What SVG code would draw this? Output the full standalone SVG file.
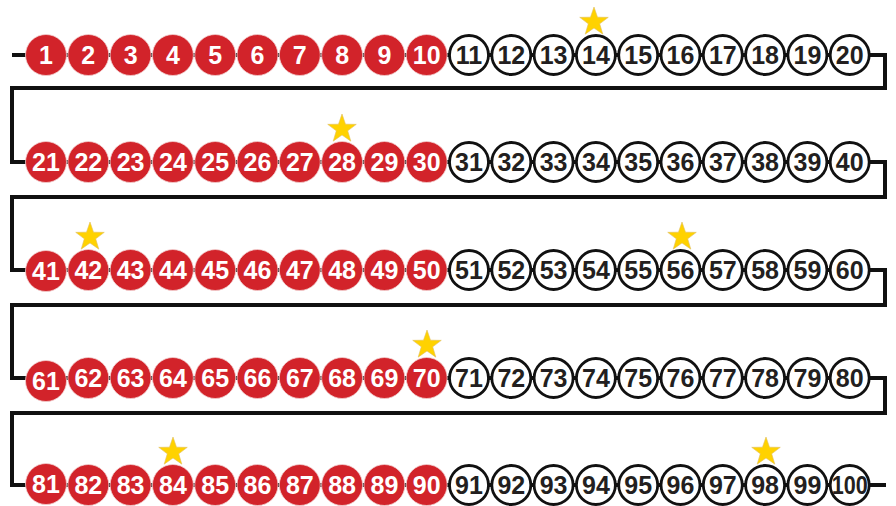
<svg xmlns="http://www.w3.org/2000/svg" width="896" height="506" viewBox="0 0 896 506">
<style>
.r{fill:#D2232A;stroke:#f3d0d0;stroke-width:0.8}
.w{fill:#fff;stroke:#111;stroke-width:2.8}
text{font-family:"Liberation Sans","DejaVu Sans",sans-serif;font-weight:bold;font-size:25px;text-anchor:middle}
.r+text{fill:#fff}
.w+text{fill:#231F20}
.conn{fill:none;stroke:#111;stroke-width:4;stroke-linejoin:miter}
.star{fill:#FFD200;stroke:#e0c060;stroke-width:0.6}
</style>
<defs>
<polygon id="st" points="0,-15 3.53,-4.85 14.27,-4.64 5.71,1.85 8.82,12.14 0,6 -8.82,12.14 -5.71,1.85 -14.27,-4.64 -3.53,-4.85"/>
</defs>
<rect width="896" height="506" fill="#fff"/>
<g id="connectors">
<path class="conn" d="M12 55 H885 V88 H12 V162 H885 V197 H12 V270 H885 V305 H12 V378 H885 V413 H12 V485 H886"/>
</g>
<g id="row1">
<g id="n1"><circle class="r" cx="46" cy="55" r="20.5"/><text x="46" y="64">1</text></g>
<g id="n2"><circle class="r" cx="88.3" cy="55" r="20.5"/><text x="88.3" y="64">2</text></g>
<g id="n3"><circle class="r" cx="130.6" cy="55" r="20.5"/><text x="130.6" y="64">3</text></g>
<g id="n4"><circle class="r" cx="172.9" cy="55" r="20.5"/><text x="172.9" y="64">4</text></g>
<g id="n5"><circle class="r" cx="215.2" cy="55" r="20.5"/><text x="215.2" y="64">5</text></g>
<g id="n6"><circle class="r" cx="257.5" cy="55" r="20.5"/><text x="257.5" y="64">6</text></g>
<g id="n7"><circle class="r" cx="299.8" cy="55" r="20.5"/><text x="299.8" y="64">7</text></g>
<g id="n8"><circle class="r" cx="342.1" cy="55" r="20.5"/><text x="342.1" y="64">8</text></g>
<g id="n9"><circle class="r" cx="384.4" cy="55" r="20.5"/><text x="384.4" y="64">9</text></g>
<g id="n10"><circle class="r" cx="426.7" cy="55" r="20.5"/><text x="426.7" y="64">10</text></g>
<g id="n11"><circle class="w" cx="469" cy="55" r="19.5"/><text x="469" y="64">11</text></g>
<g id="n12"><circle class="w" cx="511.3" cy="55" r="19.5"/><text x="511.3" y="64">12</text></g>
<g id="n13"><circle class="w" cx="553.6" cy="55" r="19.5"/><text x="553.6" y="64">13</text></g>
<g id="n14"><circle class="w" cx="595.9" cy="55" r="19.5"/><text x="595.9" y="64">14</text></g>
<g id="n15"><circle class="w" cx="638.2" cy="55" r="19.5"/><text x="638.2" y="64">15</text></g>
<g id="n16"><circle class="w" cx="680.5" cy="55" r="19.5"/><text x="680.5" y="64">16</text></g>
<g id="n17"><circle class="w" cx="722.8" cy="55" r="19.5"/><text x="722.8" y="64">17</text></g>
<g id="n18"><circle class="w" cx="765.1" cy="55" r="19.5"/><text x="765.1" y="64">18</text></g>
<g id="n19"><circle class="w" cx="807.4" cy="55" r="19.5"/><text x="807.4" y="64">19</text></g>
<g id="n20"><circle class="w" cx="849.7" cy="55" r="19.5"/><text x="849.7" y="64">20</text></g>
</g>
<g id="row2">
<g id="n21"><circle class="r" cx="46" cy="162" r="20.5"/><text x="46" y="171">21</text></g>
<g id="n22"><circle class="r" cx="88.3" cy="162" r="20.5"/><text x="88.3" y="171">22</text></g>
<g id="n23"><circle class="r" cx="130.6" cy="162" r="20.5"/><text x="130.6" y="171">23</text></g>
<g id="n24"><circle class="r" cx="172.9" cy="162" r="20.5"/><text x="172.9" y="171">24</text></g>
<g id="n25"><circle class="r" cx="215.2" cy="162" r="20.5"/><text x="215.2" y="171">25</text></g>
<g id="n26"><circle class="r" cx="257.5" cy="162" r="20.5"/><text x="257.5" y="171">26</text></g>
<g id="n27"><circle class="r" cx="299.8" cy="162" r="20.5"/><text x="299.8" y="171">27</text></g>
<g id="n28"><circle class="r" cx="342.1" cy="162" r="20.5"/><text x="342.1" y="171">28</text></g>
<g id="n29"><circle class="r" cx="384.4" cy="162" r="20.5"/><text x="384.4" y="171">29</text></g>
<g id="n30"><circle class="r" cx="426.7" cy="162" r="20.5"/><text x="426.7" y="171">30</text></g>
<g id="n31"><circle class="w" cx="469" cy="162" r="19.5"/><text x="469" y="171">31</text></g>
<g id="n32"><circle class="w" cx="511.3" cy="162" r="19.5"/><text x="511.3" y="171">32</text></g>
<g id="n33"><circle class="w" cx="553.6" cy="162" r="19.5"/><text x="553.6" y="171">33</text></g>
<g id="n34"><circle class="w" cx="595.9" cy="162" r="19.5"/><text x="595.9" y="171">34</text></g>
<g id="n35"><circle class="w" cx="638.2" cy="162" r="19.5"/><text x="638.2" y="171">35</text></g>
<g id="n36"><circle class="w" cx="680.5" cy="162" r="19.5"/><text x="680.5" y="171">36</text></g>
<g id="n37"><circle class="w" cx="722.8" cy="162" r="19.5"/><text x="722.8" y="171">37</text></g>
<g id="n38"><circle class="w" cx="765.1" cy="162" r="19.5"/><text x="765.1" y="171">38</text></g>
<g id="n39"><circle class="w" cx="807.4" cy="162" r="19.5"/><text x="807.4" y="171">39</text></g>
<g id="n40"><circle class="w" cx="849.7" cy="162" r="19.5"/><text x="849.7" y="171">40</text></g>
</g>
<g id="row3">
<g id="n41"><circle class="r" cx="46" cy="271" r="20.5"/><text x="46" y="280">41</text></g>
<g id="n42"><circle class="r" cx="88.3" cy="270" r="20.5"/><text x="88.3" y="279">42</text></g>
<g id="n43"><circle class="r" cx="130.6" cy="270" r="20.5"/><text x="130.6" y="279">43</text></g>
<g id="n44"><circle class="r" cx="172.9" cy="270" r="20.5"/><text x="172.9" y="279">44</text></g>
<g id="n45"><circle class="r" cx="215.2" cy="270" r="20.5"/><text x="215.2" y="279">45</text></g>
<g id="n46"><circle class="r" cx="257.5" cy="270" r="20.5"/><text x="257.5" y="279">46</text></g>
<g id="n47"><circle class="r" cx="299.8" cy="270" r="20.5"/><text x="299.8" y="279">47</text></g>
<g id="n48"><circle class="r" cx="342.1" cy="270" r="20.5"/><text x="342.1" y="279">48</text></g>
<g id="n49"><circle class="r" cx="384.4" cy="270" r="20.5"/><text x="384.4" y="279">49</text></g>
<g id="n50"><circle class="r" cx="426.7" cy="270" r="20.5"/><text x="426.7" y="279">50</text></g>
<g id="n51"><circle class="w" cx="469" cy="270" r="19.5"/><text x="469" y="279">51</text></g>
<g id="n52"><circle class="w" cx="511.3" cy="270" r="19.5"/><text x="511.3" y="279">52</text></g>
<g id="n53"><circle class="w" cx="553.6" cy="270" r="19.5"/><text x="553.6" y="279">53</text></g>
<g id="n54"><circle class="w" cx="595.9" cy="270" r="19.5"/><text x="595.9" y="279">54</text></g>
<g id="n55"><circle class="w" cx="638.2" cy="270" r="19.5"/><text x="638.2" y="279">55</text></g>
<g id="n56"><circle class="w" cx="680.5" cy="270" r="19.5"/><text x="680.5" y="279">56</text></g>
<g id="n57"><circle class="w" cx="722.8" cy="270" r="19.5"/><text x="722.8" y="279">57</text></g>
<g id="n58"><circle class="w" cx="765.1" cy="270" r="19.5"/><text x="765.1" y="279">58</text></g>
<g id="n59"><circle class="w" cx="807.4" cy="270" r="19.5"/><text x="807.4" y="279">59</text></g>
<g id="n60"><circle class="w" cx="849.7" cy="270" r="19.5"/><text x="849.7" y="279">60</text></g>
</g>
<g id="row4">
<g id="n61"><circle class="r" cx="46" cy="381" r="20.5"/><text x="46" y="390">61</text></g>
<g id="n62"><circle class="r" cx="88.3" cy="378" r="20.5"/><text x="88.3" y="387">62</text></g>
<g id="n63"><circle class="r" cx="130.6" cy="378" r="20.5"/><text x="130.6" y="387">63</text></g>
<g id="n64"><circle class="r" cx="172.9" cy="378" r="20.5"/><text x="172.9" y="387">64</text></g>
<g id="n65"><circle class="r" cx="215.2" cy="378" r="20.5"/><text x="215.2" y="387">65</text></g>
<g id="n66"><circle class="r" cx="257.5" cy="378" r="20.5"/><text x="257.5" y="387">66</text></g>
<g id="n67"><circle class="r" cx="299.8" cy="378" r="20.5"/><text x="299.8" y="387">67</text></g>
<g id="n68"><circle class="r" cx="342.1" cy="378" r="20.5"/><text x="342.1" y="387">68</text></g>
<g id="n69"><circle class="r" cx="384.4" cy="378" r="20.5"/><text x="384.4" y="387">69</text></g>
<g id="n70"><circle class="r" cx="426.7" cy="378" r="20.5"/><text x="426.7" y="387">70</text></g>
<g id="n71"><circle class="w" cx="469" cy="378" r="19.5"/><text x="469" y="387">71</text></g>
<g id="n72"><circle class="w" cx="511.3" cy="378" r="19.5"/><text x="511.3" y="387">72</text></g>
<g id="n73"><circle class="w" cx="553.6" cy="378" r="19.5"/><text x="553.6" y="387">73</text></g>
<g id="n74"><circle class="w" cx="595.9" cy="378" r="19.5"/><text x="595.9" y="387">74</text></g>
<g id="n75"><circle class="w" cx="638.2" cy="378" r="19.5"/><text x="638.2" y="387">75</text></g>
<g id="n76"><circle class="w" cx="680.5" cy="378" r="19.5"/><text x="680.5" y="387">76</text></g>
<g id="n77"><circle class="w" cx="722.8" cy="378" r="19.5"/><text x="722.8" y="387">77</text></g>
<g id="n78"><circle class="w" cx="765.1" cy="378" r="19.5"/><text x="765.1" y="387">78</text></g>
<g id="n79"><circle class="w" cx="807.4" cy="378" r="19.5"/><text x="807.4" y="387">79</text></g>
<g id="n80"><circle class="w" cx="849.7" cy="378" r="19.5"/><text x="849.7" y="387">80</text></g>
</g>
<g id="row5">
<g id="n81"><circle class="r" cx="46" cy="484" r="20.5"/><text x="46" y="493">81</text></g>
<g id="n82"><circle class="r" cx="88.3" cy="485" r="20.5"/><text x="88.3" y="494">82</text></g>
<g id="n83"><circle class="r" cx="130.6" cy="485" r="20.5"/><text x="130.6" y="494">83</text></g>
<g id="n84"><circle class="r" cx="172.9" cy="485" r="20.5"/><text x="172.9" y="494">84</text></g>
<g id="n85"><circle class="r" cx="215.2" cy="485" r="20.5"/><text x="215.2" y="494">85</text></g>
<g id="n86"><circle class="r" cx="257.5" cy="485" r="20.5"/><text x="257.5" y="494">86</text></g>
<g id="n87"><circle class="r" cx="299.8" cy="485" r="20.5"/><text x="299.8" y="494">87</text></g>
<g id="n88"><circle class="r" cx="342.1" cy="485" r="20.5"/><text x="342.1" y="494">88</text></g>
<g id="n89"><circle class="r" cx="384.4" cy="485" r="20.5"/><text x="384.4" y="494">89</text></g>
<g id="n90"><circle class="r" cx="426.7" cy="485" r="20.5"/><text x="426.7" y="494">90</text></g>
<g id="n91"><circle class="w" cx="469" cy="485" r="19.5"/><text x="469" y="494">91</text></g>
<g id="n92"><circle class="w" cx="511.3" cy="485" r="19.5"/><text x="511.3" y="494">92</text></g>
<g id="n93"><circle class="w" cx="553.6" cy="485" r="19.5"/><text x="553.6" y="494">93</text></g>
<g id="n94"><circle class="w" cx="595.9" cy="485" r="19.5"/><text x="595.9" y="494">94</text></g>
<g id="n95"><circle class="w" cx="638.2" cy="485" r="19.5"/><text x="638.2" y="494">95</text></g>
<g id="n96"><circle class="w" cx="680.5" cy="485" r="19.5"/><text x="680.5" y="494">96</text></g>
<g id="n97"><circle class="w" cx="722.8" cy="485" r="19.5"/><text x="722.8" y="494">97</text></g>
<g id="n98"><circle class="w" cx="765.1" cy="485" r="19.5"/><text x="765.1" y="494">98</text></g>
<g id="n99"><circle class="w" cx="807.4" cy="485" r="19.5"/><text x="807.4" y="494">99</text></g>
<g id="n100"><circle class="w" cx="849.7" cy="485" r="19.5"/><text x="849.7" y="494" textLength="36" lengthAdjust="spacingAndGlyphs">100</text></g>
</g>
<g id="stars">
<use href="#st" class="star" x="594" y="22"/>
<use href="#st" class="star" x="342" y="129"/>
<use href="#st" class="star" x="90" y="237"/>
<use href="#st" class="star" x="682" y="237"/>
<use href="#st" class="star" x="427" y="345"/>
<use href="#st" class="star" x="173" y="452"/>
<use href="#st" class="star" x="766" y="452"/>
</g>
</svg>
